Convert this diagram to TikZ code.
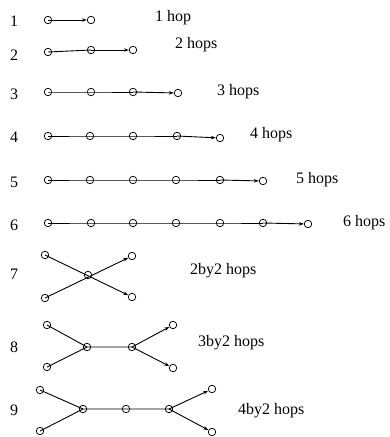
\documentclass[tikz,border=0pt]{standalone}
\usepackage{fontspec}
\setmainfont{Liberation Serif}
\usetikzlibrary{arrows.meta}
\begin{document}
\begin{tikzpicture}[x=1pt,y=-1pt,
  nd/.style={circle,draw,line width=0.75pt,minimum size=7.5pt,inner sep=0pt},
  ln/.style={line width=0.9pt},
  arr/.style={line width=0.9pt,-{Stealth[length=5pt,width=3.5pt]}},
  lbl/.style={anchor=west,inner sep=0pt,font=\fontsize{16}{19}\selectfont},
  num/.style={inner sep=0pt,font=\fontsize{16}{19}\selectfont}]
\useasboundingbox (0,0) rectangle (389,437);
% row numbers
\foreach \n/\y in {1/21,2/55,3/94,4/137,5/182,6/225,7/274,8/347,9/410}
  \node[num] (n\n) at (14,\y) {\n};
% labels
\node[lbl] (l1) at (155,18) {1 hop};
\node[lbl] (l2) at (175,45) {2 hops};
\node[lbl] (l3) at (217,92) {3 hops};
\node[lbl] (l4) at (250,135) {4 hops};
\node[lbl] (l5) at (296,180) {5 hops};
\node[lbl] (l6) at (343,223) {6 hops};
\node[lbl] (l7) at (190,271) {2by2 hops};
\node[lbl] (l8) at (198,343) {3by2 hops};
\node[lbl] (l9) at (238,411) {4by2 hops};
% row 1
\node[nd] (a1) at (48,20) {};
\node[nd] (a2) at (91,20) {};
\draw[arr] (a1.center) -- (a2);
% row 2
\node[nd] (b1) at (48,52) {};
\node[nd] (b2) at (91,50) {};
\node[nd] (b3) at (133,50) {};
\draw[ln] (b1.center) -- (b2.center);
\draw[arr] (b2.center) -- (b3);
% row 3
\node[nd] (c1) at (48,92) {};
\node[nd] (c2) at (91,92) {};
\node[nd] (c3) at (133,92) {};
\node[nd] (c4) at (178,93) {};
\draw[ln] (c1.center) -- (c2.center) -- (c3.center);
\draw[arr] (c3.center) -- (c4);
% row 4
\node[nd] (d1) at (48,136) {};
\node[nd] (d2) at (90,136) {};
\node[nd] (d3) at (133,136) {};
\node[nd] (d4) at (177,136) {};
\node[nd] (d5) at (220,138) {};
\draw[ln] (d1.center) -- (d2.center) -- (d3.center) -- (d4.center);
\draw[arr] (d4.center) -- (d5);
% row 5
\node[nd] (e1) at (48,180) {};
\node[nd] (e2) at (90,180) {};
\node[nd] (e3) at (133,180) {};
\node[nd] (e4) at (176,180) {};
\node[nd] (e5) at (220,180) {};
\node[nd] (e6) at (263,181) {};
\draw[ln] (e1.center) -- (e2.center) -- (e3.center) -- (e4.center) -- (e5.center);
\draw[arr] (e5.center) -- (e6);
% row 6
\node[nd] (f1) at (48,223) {};
\node[nd] (f2) at (91,223) {};
\node[nd] (f3) at (133,223) {};
\node[nd] (f4) at (176,223) {};
\node[nd] (f5) at (220,223) {};
\node[nd] (f6) at (263,223) {};
\node[nd] (f7) at (308,224) {};
\draw[ln] (f1.center) -- (f2.center) -- (f3.center) -- (f4.center) -- (f5.center) -- (f6.center);
\draw[arr] (f6.center) -- (f7);
% row 7
\node[nd] (g1) at (45,255) {};
\node[nd] (g2) at (45,298) {};
\node[nd] (gc) at (88,275) {};
\node[nd] (g3) at (132,256) {};
\node[nd] (g4) at (132,297) {};
\draw[arr] (g1.center) -- (g4);
\draw[arr] (g2.center) -- (g3);
% row 8
\node[nd] (h1) at (47,325) {};
\node[nd] (h2) at (47,367) {};
\node[nd] (hA) at (87,347) {};
\node[nd] (hB) at (132,347) {};
\node[nd] (h3) at (173,325) {};
\node[nd] (h4) at (173,368) {};
\draw[ln] (h1.center) -- (hA.center) -- (hB.center);
\draw[ln] (h2.center) -- (hA.center);
\draw[arr] (hB.center) -- (h3);
\draw[arr] (hB.center) -- (h4);
% row 9
\node[nd] (i1) at (40,390) {};
\node[nd] (i2) at (40,431) {};
\node[nd] (iA) at (83,409) {};
\node[nd] (iM) at (126,409) {};
\node[nd] (iB) at (169,409) {};
\node[nd] (i3) at (212,389) {};
\node[nd] (i4) at (212,432) {};
\draw[ln] (i1.center) -- (iA.center) -- (iM.center) -- (iB.center);
\draw[ln] (i2.center) -- (iA.center);
\draw[arr] (iB.center) -- (i3);
\draw[arr] (iB.center) -- (i4);
\end{tikzpicture}
\end{document}
